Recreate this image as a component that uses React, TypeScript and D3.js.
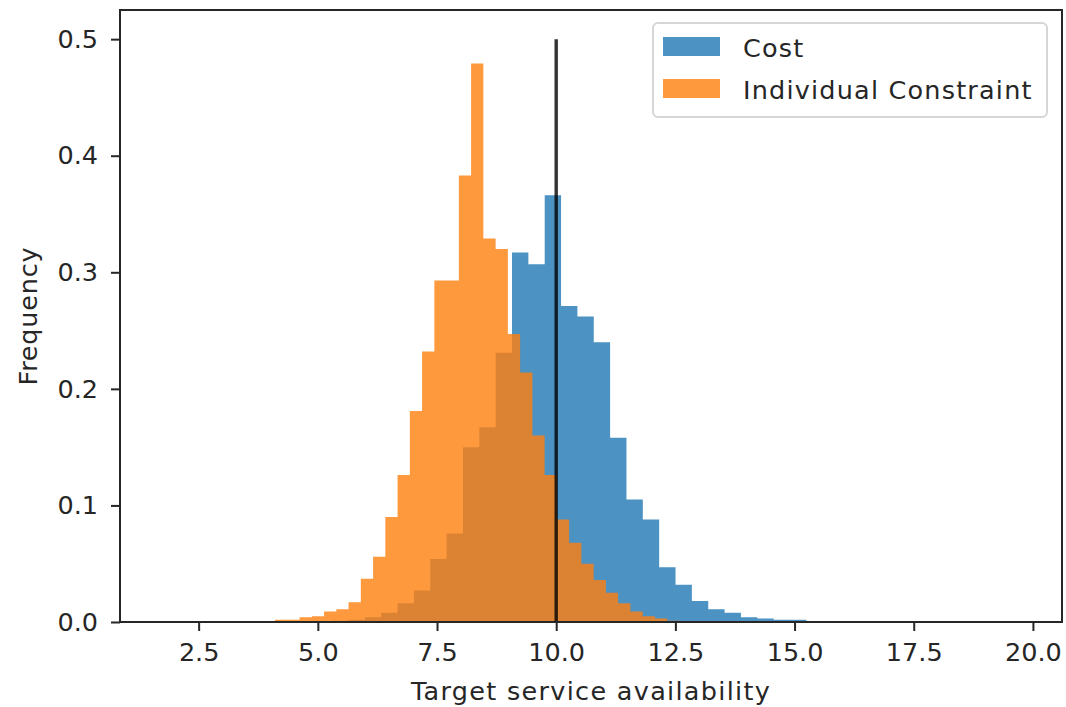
import React, { useEffect, useRef } from 'react';
import * as d3 from 'd3';

// histogram bins (density)
const costStart = 5.3;
const costBinWidth = 0.343;
const costHeights = [
  0.001, 0.002, 0.004, 0.008, 0.016, 0.027, 0.054, 0.076, 0.15, 0.167,
  0.231, 0.317, 0.307, 0.366, 0.271, 0.262, 0.24, 0.158, 0.105, 0.088,
  0.047, 0.032, 0.018, 0.011, 0.008, 0.004, 0.003, 0.002, 0.002,
];

const constraintStart = 4.103;
const constraintBinWidth = 0.257;
const constraintHeights = [
  0.002, 0.002, 0.004, 0.005, 0.009, 0.011, 0.017, 0.037, 0.056, 0.09,
  0.126, 0.181, 0.232, 0.293, 0.293, 0.383, 0.479, 0.329, 0.32, 0.247,
  0.214, 0.16, 0.126, 0.088, 0.068, 0.05, 0.036, 0.025, 0.016, 0.009,
  0.005, 0.003, 0.001,
];

const targetValue = 10;
const targetTop = 0.5;

const xTicks = [2.5, 5, 7.5, 10, 12.5, 15, 17.5, 20];
const yTicks = [0, 0.1, 0.2, 0.3, 0.4, 0.5];
const xDomain = [0.85, 20.61];
const yDomain = [0, 0.525];

const seriesNames = ['Cost', 'Individual Constraint'];
const seriesColors = ['#1f77b4', '#ff7f0e'];

const toBins = (start: number, w: number, heights: number[]) =>
  heights.map((h, i) => ({ x0: start + i * w, x1: start + (i + 1) * w, h }));

const W = 1066;
const H = 707;
const FONT = '"DejaVu Sans", sans-serif';
const INK = '#262626';

export default function App() {
  const svgRef = useRef<SVGSVGElement>(null);

  useEffect(() => {
    document.body.style.margin = '0';
    if (!svgRef.current) return;
    const svg = d3.select(svgRef.current);
    svg.selectAll('*').remove();

    const margin = { top: 10, right: 4, bottom: 85, left: 120 };
    const innerW = W - margin.left - margin.right;
    const innerH = H - margin.top - margin.bottom;

    const x = d3.scaleLinear().domain(xDomain).range([0, innerW]);
    const y = d3.scaleLinear().domain(yDomain).range([innerH, 0]);

    const g = svg.append('g').attr('transform', `translate(${margin.left},${margin.top})`);

    const area = d3.area<{ x: number; h: number }>()
      .x(d => x(d.x))
      .y0(y(0))
      .y1(d => y(d.h))
      .curve(d3.curveStepAfter);

    const series = [
      toBins(costStart, costBinWidth, costHeights),
      toBins(constraintStart, constraintBinWidth, constraintHeights),
    ];

    series.forEach((bins, i) => {
      const pts = bins.map(b => ({ x: b.x0, h: b.h }));
      pts.push({ x: bins[bins.length - 1].x1, h: 0 });
      g.append('path')
        .datum(pts)
        .attr('d', area)
        .attr('fill', seriesColors[i])
        .attr('fill-opacity', 0.8);
    });

    // target line
    g.append('line')
      .attr('x1', x(targetValue))
      .attr('x2', x(targetValue))
      .attr('y1', y(0))
      .attr('y2', y(targetTop))
      .attr('stroke', '#000')
      .attr('stroke-opacity', 0.8)
      .attr('stroke-width', 3.4);

    // axes
    const xAxis = g.append('g')
      .attr('transform', `translate(0,${innerH})`)
      .call(d3.axisBottom(x).tickValues(xTicks).tickFormat(d3.format('.1f')).tickSize(9).tickPadding(12).tickSizeOuter(0));
    const yAxis = g.append('g')
      .call(d3.axisLeft(y).tickValues(yTicks).tickFormat(d3.format('.1f')).tickSize(9).tickPadding(13).tickSizeOuter(0));

    [xAxis, yAxis].forEach(ax => {
      ax.select('.domain').remove();
      ax.selectAll('line').attr('stroke', INK).attr('stroke-width', 2);
      ax.selectAll('text').attr('font-family', FONT).attr('font-size', 25.5).attr('fill', INK);
    });

    // frame
    g.append('rect')
      .attr('x', 0)
      .attr('y', 0)
      .attr('width', innerW)
      .attr('height', innerH)
      .attr('fill', 'none')
      .attr('stroke', INK)
      .attr('stroke-width', 2);

    // labels
    svg.append('text')
      .attr('x', margin.left + innerW / 2)
      .attr('y', 700)
      .attr('text-anchor', 'middle')
      .attr('font-family', FONT)
      .attr('font-size', 25.5)
      .attr('letter-spacing', 1.3)
      .attr('fill', INK)
      .text('Target service availability');

    svg.append('text')
      .attr('transform', `translate(37,${margin.top + innerH / 2}) rotate(-90)`)
      .attr('text-anchor', 'middle')
      .attr('font-family', FONT)
      .attr('font-size', 25.5)
      .attr('letter-spacing', 0.8)
      .attr('fill', INK)
      .text('Frequency');

    // legend
    const lg = svg.append('g').attr('transform', 'translate(653,23)');
    lg.append('rect')
      .attr('width', 394)
      .attr('height', 94)
      .attr('rx', 5)
      .attr('fill', '#fff')
      .attr('fill-opacity', 0.8)
      .attr('stroke', '#d6d6d6')
      .attr('stroke-width', 2);
    seriesNames.forEach((name, i) => {
      lg.append('rect')
        .attr('x', 10)
        .attr('y', 14 + i * 42)
        .attr('width', 57)
        .attr('height', 19)
        .attr('fill', seriesColors[i])
        .attr('fill-opacity', 0.8);
      lg.append('text')
        .attr('x', 90)
        .attr('y', 34 + i * 42)
        .attr('font-family', FONT)
        .attr('font-size', 25.5)
        .attr('letter-spacing', 1.2)
        .attr('fill', INK)
        .text(name);
    });
  }, []);

  return <svg ref={svgRef} width={W} height={H} style={{ display: 'block', background: '#fff' }} />;
}
